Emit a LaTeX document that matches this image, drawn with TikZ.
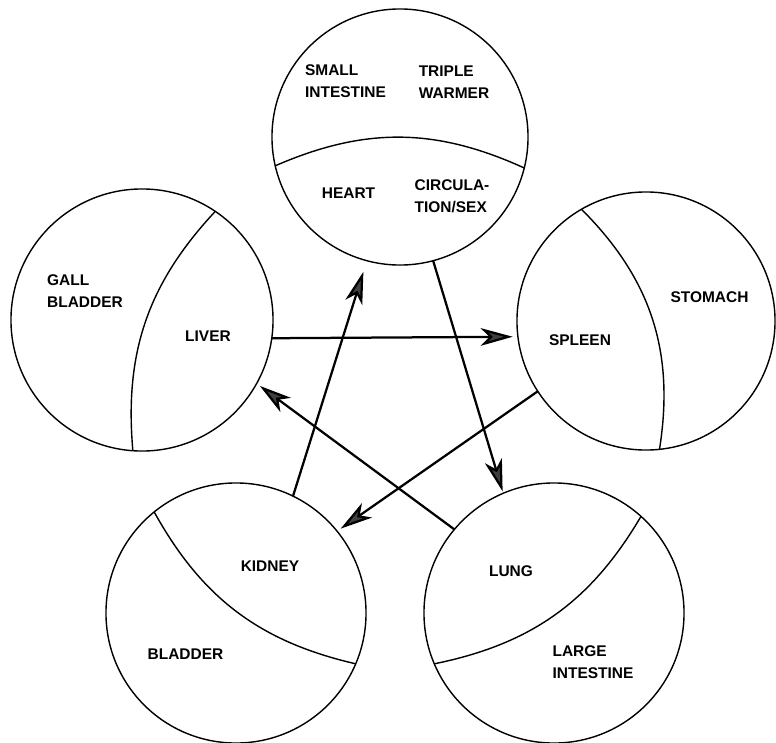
\documentclass[tikz,border=0pt]{standalone}
\usepackage{fontspec}
\setmainfont{Liberation Sans}
\usetikzlibrary{arrows.meta}

\begin{document}
\begin{tikzpicture}[x=0.025cm, y=-0.025cm,
        element/.style={
            draw, circle, line width=1pt, inner sep=0pt, outer sep=0pt
        },
        divide/.style={line width=1pt},
        organ/.style={
            align=left, inner sep=0pt,
            font=\fontsize{11}{15.6}\selectfont\bfseries
        },
        flow/.style={-{Stealth[length=8mm, width=4.4mm, inset=2.2mm, fill=black!75]}, line width=1.6pt}
    ]
        \useasboundingbox (0,0) rectangle (776,743);
        % the five circles
        \node[element, minimum size=6.4cm]  (fire)  at (400,137) {};
        \node[element, minimum size=6.55cm] (wood)  at (142,320) {};
        \node[element, minimum size=6.45cm] (earth) at (646,321) {};
        \node[element, minimum size=6.5cm]  (water) at (236,613) {};
        \node[element, minimum size=6.5cm]  (metal) at (554,613) {};
        % dividing lines
        \draw[divide] (fire.193.2) to[bend left=24] (fire.346.3);
        \draw[divide] (wood.56.7) to[bend right=24] (wood.266.4);
        \draw[divide] (earth.120.4) to[bend left=27] (earth.276.7);
        \draw[divide] (water.129) to[bend right=24] (water.337.1);
        \draw[divide] (metal.203.1) to[bend right=24] (metal.48.5);
        % organs
        \node[organ] (smallint) at (345.5,81.5) {SMALL\\INTESTINE};
        \node[organ] (triple)   at (454,82)     {TRIPLE\\WARMER};
        \node[organ] (heart)    at (348.5,193.5) {HEART};
        \node[organ] (circsex)  at (452,196)    {CIRCULA-\\TION/SEX};
        \node[organ] (gall)     at (85,291)     {GALL\\BLADDER};
        \node[organ] (liver)    at (208,336)    {LIVER};
        \node[organ] (stomach)  at (709.5,297.5) {STOMACH};
        \node[organ] (spleen)   at (580,340)    {SPLEEN};
        \node[organ] (kidney)   at (270,566.5)  {KIDNEY};
        \node[organ] (bladder)  at (185.5,654.5) {BLADDER};
        \node[organ] (lung)     at (511,571)    {LUNG};
        \node[organ] (largeint) at (593,662)    {LARGE\\INTESTINE};
        % cycle
        \draw[flow, shorten >=1.3mm] (wood.352) -- (earth.187.6);
        \draw[flow, shorten >=2.9mm] (water.64.2) -- (fire.255.7);
        \draw[flow, shorten >=0.5mm] (fire.285.6) -- (metal.113.2);
        \draw[flow, shorten >=1.1mm] (earth.213.3) -- (water.39.4);
        \draw[flow, shorten >=1mm] (metal.140) -- (wood.331.4);
    \end{tikzpicture}
\end{document}
